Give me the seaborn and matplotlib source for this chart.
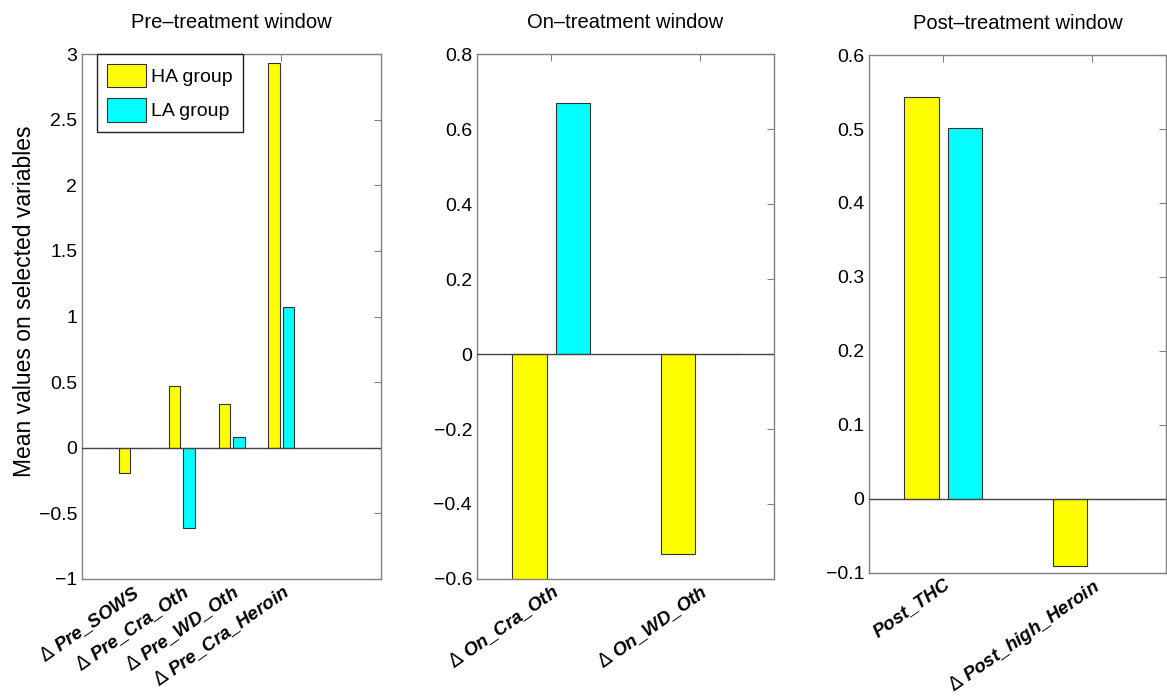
import matplotlib
matplotlib.use("Agg")
import matplotlib.pyplot as plt
import seaborn as sns
import pandas as pd
from matplotlib.ticker import MultipleLocator, FuncFormatter

# group names and bar colours
groups = ["HA group", "LA group"]
group_colors = ["#ffff00", "#00ffff"]

# pre-treatment window
pre_vars = [r"$\Delta$ Pre_SOWS", r"$\Delta$ Pre_Cra_Oth", r"$\Delta$ Pre_WD_Oth", r"$\Delta$ Pre_Cra_Heroin"]
pre_ha = [-0.19, 0.47, 0.335, 2.93]
pre_la = [-0.005, -0.61, 0.08, 1.07]

# on-treatment window
on_vars = [r"$\Delta$ On_Cra_Oth", r"$\Delta$ On_WD_Oth"]
on_ha = [-0.65, -0.533]
on_la = [0.669, 0.0]

# post-treatment window
post_vars = ["Post_THC", r"$\Delta$ Post_high_Heroin"]
post_ha = [0.543, -0.0905]
post_la = [0.501, 0.0]

titles = ["Pre\u2013treatment window", "On\u2013treatment window", "Post\u2013treatment window"]


def make_frame(variables, ha, la):
    """Long-format table for one panel."""
    return pd.DataFrame({
        "variable": variables * 2,
        "value": ha + la,
        "group": [groups[0]] * len(variables) + [groups[1]] * len(variables),
    })


def fmt_tick(v, pos):
    v = round(v, 6) + 0.0
    return f"{v:g}".replace("-", "\u2212")


sns.set_theme(style="white")
plt.rcParams["font.family"] = ["Liberation Sans", "DejaVu Sans"]
plt.rcParams["text.color"] = "black"
plt.rcParams["axes.labelcolor"] = "black"
plt.rcParams["xtick.labelcolor"] = "black"
plt.rcParams["ytick.labelcolor"] = "black"

fig = plt.figure(figsize=(11.67, 6.98), dpi=100)

# axes boxes in figure fraction: [left, bottom, width, height]
boxes = [
    [0.0703, 0.1705, 0.2562, 0.7521],
    [0.4087, 0.1705, 0.2545, 0.7521],
    [0.7446, 0.1791, 0.2545, 0.7421],
]
panels = [
    (pre_vars, pre_ha, pre_la, (-1, 5), (-1, 3), 0.5),
    (on_vars, on_ha, on_la, (-0.5, 1.5), (-0.6, 0.8), 0.2),
    (post_vars, post_ha, post_la, (-0.5, 1.5), (-0.1, 0.6), 0.1),
]

spine_gray = "#808080"

for i, (box, (variables, ha, la, xlim, ylim, ystep)) in enumerate(zip(boxes, panels)):
    ax = fig.add_axes(box)
    df = make_frame(variables, ha, la)
    sns.barplot(data=df, x="variable", y="value", hue="group", order=variables,
                hue_order=groups, palette=group_colors, saturation=1,
                width=0.58, gap=0.2, edgecolor="#333333", linewidth=0.8,
                errorbar=None, ax=ax, legend=(i == 0))
    ax.axhline(0, color="#444444", lw=1, zorder=3)
    ax.set_xlim(*xlim)
    ax.set_ylim(*ylim)
    ax.yaxis.set_major_locator(MultipleLocator(ystep))
    ax.yaxis.set_major_formatter(FuncFormatter(fmt_tick))
    ax.set_xticks(range(len(variables)))
    ax.set_xticklabels(variables, rotation=35, ha="right", va="top",
                       rotation_mode="anchor", fontweight="bold",
                       fontstyle="italic", fontsize=13.5)
    ax.tick_params(axis="both", direction="in", top=True, right=True,
                   length=5, width=0.8, color=spine_gray, labelsize=14)
    ax.tick_params(axis="x", pad=2, labelsize=13.5)
    for sp in ax.spines.values():
        sp.set_color(spine_gray)
        sp.set_linewidth(1)
    ax.set_xlabel("")
    ax.set_ylabel("")
    ax.set_title(titles[i], fontsize=14.5, pad=19)

    if i == 0:
        ax.set_ylabel("Mean values on selected variables", fontsize=16.5)
        ax.yaxis.set_label_coords(-0.153, 0.53)
        handles, labels = ax.get_legend_handles_labels()
        ax.legend(handles, labels, loc="upper left", bbox_to_anchor=(0.05, 1.0),
                  borderaxespad=0, frameon=True, fancybox=False,
                  edgecolor="#222222", framealpha=1, fontsize=14,
                  handlelength=2.0, handleheight=1.5, labelspacing=0.55,
                  handletextpad=0.3, borderpad=0.5)

fig.savefig("out.png", dpi=100)
